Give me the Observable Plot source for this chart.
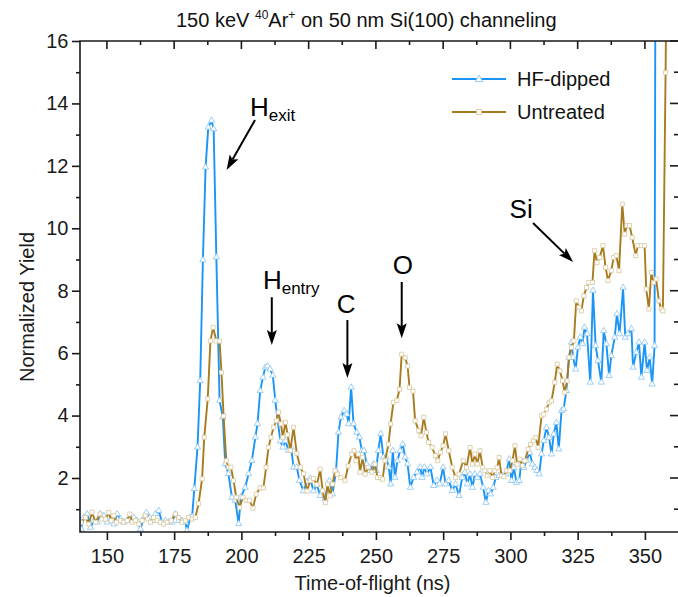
<!DOCTYPE html>
<html>
<head>
<meta charset="utf-8">
<script src="https://cdn.jsdelivr.net/npm/d3@7"></script>
<script src="https://cdn.jsdelivr.net/npm/@observablehq/plot@0.6"></script>
<style>
  html, body { margin: 0; padding: 0; background: #fff; overflow: hidden; }
  body { font-family: "Liberation Sans", Arial, sans-serif; color: #111; }
  #wrap { position: relative; width: 678px; height: 597px; }
  #title { position: absolute; top: 9px; left: 176px; white-space: nowrap; font-size: 20px; line-height: 22px; }
  #title sup { font-size: 12px; line-height: 0; }
  .leg { position: absolute; left: 449px; height: 24px; }
  .leg svg { position: absolute; left: 0; top: 0; }
  .leg span { position: absolute; left: 68px; top: 0; font-size: 20px; line-height: 24px; white-space: nowrap; }
</style>
</head>
<body>
<div id="wrap">
  <div id="title">150 keV <sup>40</sup>Ar<sup>+</sup> on 50 nm Si(100) channeling</div>
  <div id="chart"></div>
  <div class="leg" style="top:67px"><svg width="64" height="24"><line x1="3" x2="57" y1="12" y2="12" stroke="#1A95F5" stroke-width="2"/><path d="M30,8.1L33.8,14.6H26.2Z" fill="#fff" stroke="#86c4f2" stroke-width="0.9"/></svg><span>HF-dipped</span></div>
  <div class="leg" style="top:100px"><svg width="64" height="24"><line x1="3" x2="57" y1="12" y2="12" stroke="#A87C1E" stroke-width="2"/><rect x="27.6" y="9.6" width="4.8" height="4.8" fill="#fff" stroke="#d8c79c" stroke-width="0.9"/></svg><span>Untreated</span></div>
</div>
<script>
// ---- data (time-of-flight ns, normalized yield) ----
const hfDipped = [
  [140.2,0.38],[141.2,0.75],[142.5,0.86],[143.7,0.43],[145.0,0.65],[146.2,0.60],[147.4,0.86],[148.7,0.81],[149.9,0.60],[151.1,0.70],
  [152.4,0.54],[153.6,0.86],[154.9,0.70],[156.1,0.60],[157.3,0.65],[158.6,0.70],[159.8,0.75],[161.0,0.65],[162.3,0.38],[163.5,0.75],
  [164.5,0.91],[165.7,0.75],[167.0,0.65],[167.8,0.86],[169.1,0.97],[170.3,0.60],[171.6,0.65],[172.8,0.60],[174.0,0.60],[175.3,0.86],
  [176.5,0.65],[177.7,0.65],[179.0,0.60],[179.6,0.33],[180.8,0.75],[181.5,0.78],
  [182.3,1.67],[183.5,3.00],[184.5,5.13],[185.5,9.00],[186.5,11.97],[187.5,13.25],[188.7,13.47],[189.5,13.20],[190.5,9.09],[191.7,4.50],
  [192.9,3.96],[193.8,2.47],[195.0,2.15],[196.3,1.39],[197.5,1.30],[198.8,0.55],[199.6,1.40],[201.2,1.71],[202.5,2.15],[203.7,2.57],
  [205.0,3.32],[205.8,3.75],[206.8,4.81],[207.8,5.24],[208.7,5.56],[209.5,5.60],[210.5,5.50],[211.5,5.30],[212.4,4.50],[213.3,3.85],
  [214.3,3.20],[215.2,3.00],[216.2,3.20],[217.3,2.90],[218.3,3.00],[219.2,2.36],[220.4,2.36],[221.4,1.93],[222.9,1.60],[224.2,1.90],
  [225.4,2.00],[226.6,1.60],[227.9,1.80],[229.1,1.45],[230.9,1.35],[232.5,1.93],[233.7,1.50],[235.0,2.25],[235.9,3.48],[236.8,3.96],
  [238.0,4.17],[239.0,4.06],[239.7,3.75],[240.6,4.92],[241.5,3.75],[242.7,3.48],[243.7,3.32],[244.6,2.89],[245.4,2.89],[246.4,2.46],
  [247.6,2.25],[248.9,2.46],[249.9,2.25],[250.7,2.89],[251.6,3.43],[252.6,2.68],[253.6,2.68],[254.6,2.36],[255.3,1.82],[256.1,2.89],
  [256.9,2.03],[257.8,2.57],[258.8,2.89],[259.8,3.10],[260.7,2.68],[261.6,2.46],[262.6,1.71],[263.8,2.03],[265.1,2.20],[266.3,2.36],
  [267.0,2.03],[267.8,2.36],[268.8,2.14],[270.1,2.36],[271.3,1.77],[272.5,1.93],[273.5,1.82],[274.8,2.36],[275.7,1.82],[276.9,1.93],
  [278.2,1.61],[279.4,1.82],[280.7,1.45],[281.9,2.03],[282.9,2.19],[283.8,1.82],[284.8,2.14],[285.7,1.71],[286.6,2.14],[287.5,2.03],
  [288.5,2.14],[289.7,1.71],[290.7,1.23],[291.6,1.60],[292.4,1.50],[293.4,1.71],[294.4,2.03],[295.6,2.09],[296.9,2.09],[298.1,2.14],
  [299.4,2.62],[300.2,1.93],[301.1,2.35],[302.1,1.87],[303.1,1.93],[303.9,2.57],[304.8,2.35],[305.8,2.57],[307.0,2.83],[308.0,2.46],
  [308.9,2.35],[309.7,2.25],[310.5,2.14],[311.4,2.78],[312.2,3.21],[313.2,3.63],[314.2,3.31],[315.1,2.78],[315.9,3.42],[316.9,3.79],
  [317.8,2.94],[318.8,4.17],[319.6,4.22],[320.6,4.81],[321.6,5.88],[322.5,6.36],[323.1,5.88],[324.1,5.50],[324.9,6.20],[325.8,6.52],
  [326.6,6.31],[327.4,6.84],[328.3,6.63],[329.5,5.08],[330.5,8.02],[331.5,6.25],[332.4,5.77],[333.6,5.08],[334.5,6.73],[335.5,6.31],
  [336.5,5.29],[337.3,5.93],[338.6,6.52],[339.4,7.27],[340.4,6.63],[341.7,8.12],[342.5,6.52],[343.5,6.63],[344.8,6.79],[345.4,5.56],
  [346.6,6.04],[347.6,6.36],[348.5,5.24],[349.7,6.36],[350.6,5.45],[351.6,5.88],[352.5,5.02],[353.4,6.25],[354.3,40.0]
];
const untreated = [
  [140.2,0.59],[141.9,0.75],[143.1,0.54],[144.3,0.92],[145.6,0.60],[147.2,0.86],[148.0,0.70],[149.3,0.70],[150.5,0.91],[151.4,0.65],
  [152.4,0.81],[153.4,0.60],[154.9,0.65],[156.1,0.60],[157.3,0.65],[158.3,0.86],[159.2,0.60],[160.4,0.65],[161.7,0.54],[162.9,0.65],
  [164.1,0.81],[165.0,0.70],[166.0,0.60],[167.2,0.75],[168.5,0.65],[169.7,0.60],[170.9,0.54],[172.2,0.60],[173.7,0.65],[175.3,0.86],
  [176.5,0.75],[177.7,0.60],[179.0,0.65],[180.2,0.75],[181.5,0.70],[182.7,0.75],
  [183.9,1.20],[185.2,1.99],[186.0,3.32],[187.3,4.55],[188.3,6.41],[189.3,6.84],[190.5,6.41],[191.7,6.40],[192.4,5.40],[193.2,4.00],
  [194.2,2.57],[195.0,2.36],[195.9,2.36],[196.9,1.93],[197.9,1.40],[199.1,1.07],[200.4,1.40],[201.6,1.30],[202.8,1.30],[204.1,1.05],
  [205.3,1.50],[206.8,1.70],[208.0,1.70],[209.0,2.36],[209.9,3.00],[210.8,3.32],[211.8,3.64],[212.8,3.85],[213.6,4.12],[214.5,3.75],
  [215.2,3.32],[216.2,3.80],[217.0,3.40],[218.0,2.90],[219.2,3.64],[220.4,2.80],[221.7,2.36],[222.9,2.15],[224.2,1.60],[225.4,1.93],
  [226.6,2.00],[227.9,1.80],[229.1,2.30],[230.0,1.61],[231.0,1.23],[231.8,1.82],[232.8,1.45],[233.7,1.82],[234.6,2.25],[235.4,2.14],
  [236.8,2.03],[238.3,1.93],[239.5,2.40],[240.8,2.78],[241.7,2.89],[242.4,2.57],[243.3,2.78],[243.9,2.20],[244.9,2.68],[245.8,2.14],
  [247.0,2.36],[248.3,2.20],[249.5,2.46],[250.4,2.03],[251.4,2.03],[252.3,1.98],[253.2,2.57],[254.5,3.10],[255.3,3.75],[256.3,4.44],
  [257.6,4.50],[258.6,4.86],[259.4,5.98],[260.7,5.87],[261.6,5.60],[262.3,4.92],[263.6,4.80],[264.4,3.85],[265.7,3.53],[266.6,3.37],
  [267.6,3.96],[268.6,3.48],[269.4,3.16],[270.7,3.00],[271.9,2.73],[272.8,2.57],[273.8,2.84],[274.8,3.05],[275.7,3.43],[276.9,2.89],
  [278.2,2.36],[279.4,2.03],[280.7,2.14],[282.3,2.57],[283.5,2.35],[284.8,2.99],[285.7,2.46],[286.6,2.78],[287.5,2.46],[288.5,2.89],
  [289.5,2.35],[290.3,2.25],[291.2,2.09],[292.2,2.25],[293.2,2.03],[294.0,2.25],[294.9,2.35],[295.6,2.67],[296.5,2.09],[297.4,2.06],
  [298.4,2.25],[299.6,2.25],[300.6,2.57],[301.5,3.05],[302.3,2.46],[303.3,2.62],[304.3,2.41],[305.2,2.57],[306.4,2.94],[307.3,3.10],
  [308.3,3.21],[309.3,3.31],[310.1,2.99],[311.4,4.01],[312.2,4.06],[313.2,4.22],[314.2,4.44],[315.1,4.49],[316.3,5.08],[317.2,5.66],
  [318.2,5.45],[319.2,5.13],[320.0,4.76],[320.9,5.13],[321.6,5.88],[322.5,6.20],[323.4,6.41],[324.3,7.69],[325.3,7.48],[326.2,7.37],
  [327.1,7.85],[328.1,8.12],[329.0,8.28],[330.3,8.28],[331.1,9.30],[332.0,8.92],[333.0,9.08],[334.2,9.46],[335.2,8.76],[336.1,8.34],
  [337.3,8.66],[338.2,9.08],[339.2,9.14],[340.2,8.66],[341.4,10.79],[342.3,9.83],[343.1,10.10],[344.1,10.10],[345.1,9.72],[346.4,9.14],
  [347.2,9.46],[348.5,9.46],[349.7,9.46],[350.3,8.07],[351.3,7.43],[352.2,8.60],[353.0,8.28],[354.0,8.39],[355.0,7.69],[355.9,7.43],
  [356.5,7.37],[357.5,15.0],[358.5,24.0]
];

// axis ticks
const xTicks = [150, 175, 200, 225, 250, 275, 300, 325, 350];
const xMinor = [162.5, 187.5, 212.5, 237.5, 262.5, 287.5, 312.5, 337.5];
const yTicks = [2, 4, 6, 8, 10, 12, 14, 16];
const yMinor = [1, 3, 5, 7, 9, 11, 13, 15];
const xDomain = [140, 362.3];
const yDomain = [0.27, 16];

// annotations: label, subscript, label anchor (t, yield) at left/baseline, arrow from -> to
const annLabel = ["H", "H", "C", "O", "Si"];
const annSub = ["exit", "entry", "", "", ""];
const annT = [203.2, 208.0, 235.4, 256.3, 299.7];
const annY = [13.6, 8.05, 7.28, 8.52, 10.33];
const arrowT1 = [205.06, 211.3, 239.4, 259.6, 308.4];
const arrowY1 = [13.47, 7.79, 7.06, 8.28, 10.17];
const arrowT2 = [194.5, 211.3, 239.4, 259.6, 323.3];
const arrowY2 = [11.87, 6.26, 5.20, 6.48, 8.92];

const BLUE = "#1A95F5", BLUE_MK = "#86c4f2";
const BROWN = "#A87C1E", BROWN_MK = "#d8c79c";
const INK = "#1a1a1a";
const FONT = "Liberation Sans, Arial, sans-serif";

const hf = hfDipped.map(([t, y]) => ({t, y}));
const un = untreated.map(([t, y]) => ({t, y}));

function frameMarks(index, scales, values, dim) {
  const {width, height, marginTop, marginRight, marginBottom, marginLeft} = dim;
  const L = marginLeft, R = width - marginRight, T = marginTop, B = height - marginBottom;
  const g = d3.create("svg:g").attr("stroke", INK).attr("fill", "none").attr("stroke-width", 1.6);
  g.append("path").attr("d", `M${R + 4},${T}H${L}V${B}H${R + 4}`);
  for (const v of xTicks) { const x = scales.x(v); g.append("line").attr("x1", x).attr("x2", x).attr("y1", T).attr("y2", T + 8); }
  for (const v of xMinor) { const x = scales.x(v); g.append("line").attr("x1", x).attr("x2", x).attr("y1", T).attr("y2", T + 4); }
  for (const v of yTicks) { const y = scales.y(v); g.append("line").attr("x1", R).attr("x2", R - 8).attr("y1", y).attr("y2", y); }
  for (const v of yMinor) { const y = scales.y(v); g.append("line").attr("x1", R).attr("x2", R - 4).attr("y1", y).attr("y2", y); }
  return g.node();
}

function annotationMarks(index, scales) {
  const g = d3.create("svg:g");
  for (let i = 0; i < arrowT1.length; i++) {
    const x1 = scales.x(arrowT1[i]), y1 = scales.y(arrowY1[i]);
    const x2 = scales.x(arrowT2[i]), y2 = scales.y(arrowY2[i]);
    const dx = x2 - x1, dy = y2 - y1, len = Math.hypot(dx, dy), ux = dx / len, uy = dy / len;
    const hl = 15, hw = 5;
    const bx = x2 - ux * hl, by = y2 - uy * hl;
    g.append("line").attr("x1", x1).attr("y1", y1).attr("x2", bx + ux * 3).attr("y2", by + uy * 3)
      .attr("stroke", "#000").attr("stroke-width", 2);
    g.append("path").attr("d", `M${x2},${y2}L${bx - uy * hw},${by + ux * hw}L${bx + ux * 3},${by + uy * 3}L${bx + uy * hw},${by - ux * hw}Z`)
      .attr("fill", "#000");
  }
  for (let i = 0; i < annLabel.length; i++) {
    const t = g.append("text").attr("x", scales.x(annT[i])).attr("y", scales.y(annY[i]))
      .attr("text-anchor", "start").attr("font-family", FONT).attr("fill", "#000");
    t.append("tspan").attr("font-size", 26).text(annLabel[i]);
    if (annSub[i]) t.append("tspan").attr("font-size", 17).attr("dy", 5).text(annSub[i]);
  }
  return g.node();
}

const chart = Plot.plot({
  width: 678,
  height: 597,
  marginTop: 41,
  marginBottom: 65,
  marginLeft: 80,
  marginRight: 0,
  style: {fontFamily: FONT, color: INK, background: "#fff", overflow: "visible"},
  x: {domain: xDomain, axis: null},
  y: {domain: yDomain, axis: null},
  marks: [
    Plot.line(hf, {x: "t", y: "y", stroke: BLUE, strokeWidth: 1.9, clip: true}),
    Plot.dot(hf, {x: "t", y: "y", symbol: "triangle", r: 2.3, fill: "#fff", stroke: BLUE_MK, strokeWidth: 0.8, clip: true}),
    Plot.line(un, {x: "t", y: "y", stroke: BROWN, strokeWidth: 1.9, clip: true}),
    Plot.dot(un, {x: "t", y: "y", symbol: "square", r: 2.3, fill: "#fff", stroke: BROWN_MK, strokeWidth: 0.8, clip: true}),
    Plot.axisX(xTicks, {anchor: "bottom", tickSize: 8, tickPadding: 8, fontSize: 20, label: null, stroke: INK, strokeWidth: 1.6, color: INK}),
    Plot.axisX(xMinor, {anchor: "bottom", tickSize: 4, tickFormat: () => "", label: null, stroke: INK, strokeWidth: 1.6}),
    Plot.axisY(yTicks, {anchor: "left", tickSize: 8, tickPadding: 4, fontSize: 20, label: null, stroke: INK, strokeWidth: 1.6, color: INK}),
    Plot.axisY(yMinor, {anchor: "left", tickSize: 4, tickFormat: () => "", label: null, stroke: INK, strokeWidth: 1.6}),
    frameMarks,
    Plot.text(["Time-of-flight (ns)"], {frameAnchor: "bottom", textAnchor: "middle", lineAnchor: "middle", text: d => d, dy: 51, dx: -7, fontSize: 20, fill: INK}),
    Plot.text(["Normalized Yield"], {frameAnchor: "left", textAnchor: "middle", lineAnchor: "middle", text: d => d, rotate: -90, dx: -53, dy: 20, fontSize: 20, fill: INK}),
    annotationMarks
  ]
});
document.getElementById("chart").appendChild(chart);
</script>
</body>
</html>
